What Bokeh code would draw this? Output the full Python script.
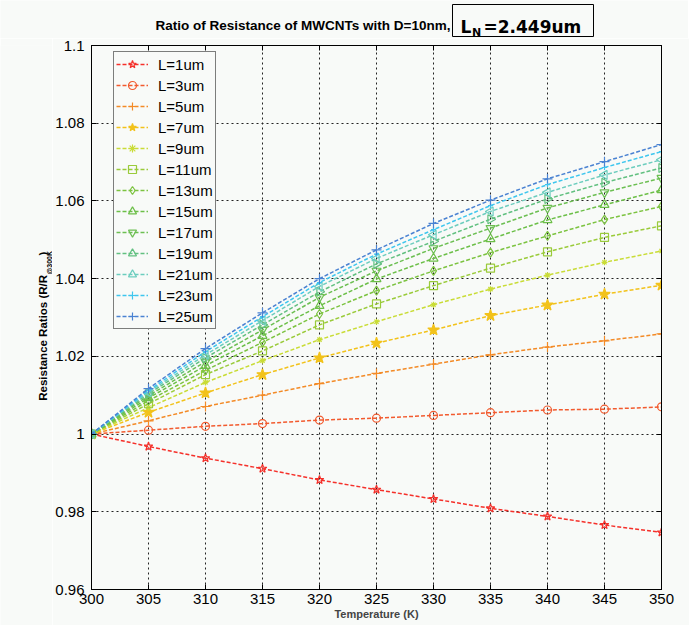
import numpy as np
from bokeh.plotting import figure
from bokeh.layouts import column, row
from bokeh.models import (Range1d, FixedTicker, LinearAxis, Legend, LegendItem,
                          CustomJSTickFormatter)
from bokeh.core.properties import value
from bokeh.embed import file_html
from bokeh.resources import INLINE

# ---------------- data ----------------
temps = [300, 305, 310, 315, 320, 325, 330, 335, 340, 345, 350]
series_labels = ["L=1um", "L=3um", "L=5um", "L=7um", "L=9um", "L=11um", "L=13um",
                 "L=15um", "L=17um", "L=19um", "L=21um", "L=23um", "L=25um"]
ratio_L1 = [1.0, 0.9968, 0.9938, 0.9911, 0.9882, 0.9857, 0.9833, 0.9809, 0.9788, 0.9766, 0.9747]
ratio_L3 = [1.0, 1.0010, 1.0020, 1.0027, 1.0036, 1.0041, 1.0048, 1.0055, 1.0062, 1.0064, 1.0070]
ratio_L5 = [1.0, 1.0034, 1.0071, 1.0100, 1.0130, 1.0156, 1.0180, 1.0204, 1.0224, 1.0240, 1.0258]
ratio_L7 = [1.0, 1.0056, 1.0106, 1.0153, 1.0196, 1.0234, 1.0268, 1.0305, 1.0332, 1.0360, 1.0383]
ratio_L9 = [1.0, 1.0068, 1.0133, 1.0189, 1.0243, 1.0289, 1.0333, 1.0373, 1.0409, 1.0442, 1.0471]
ratio_L11 = [1.0, 1.0078, 1.0153, 1.0214, 1.0281, 1.0335, 1.0382, 1.0427, 1.0469, 1.0506, 1.0536]
ratio_L13 = [1.0, 1.0086, 1.0164, 1.0236, 1.0309, 1.0369, 1.0420, 1.0467, 1.0510, 1.0552, 1.0586]
ratio_L15 = [1.0, 1.0093, 1.0176, 1.0253, 1.0330, 1.0399, 1.0452, 1.0502, 1.0551, 1.0590, 1.0628]
ratio_L17 = [1.0, 1.0099, 1.0186, 1.0268, 1.0352, 1.0420, 1.0478, 1.0530, 1.0582, 1.0622, 1.0659]
ratio_L19 = [1.0, 1.0104, 1.0196, 1.0281, 1.0366, 1.0438, 1.0496, 1.0553, 1.0605, 1.0647, 1.0685]
ratio_L21 = [1.0, 1.0108, 1.0204, 1.0292, 1.0380, 1.0452, 1.0513, 1.0573, 1.0622, 1.0667, 1.0706]
ratio_L23 = [1.0, 1.0112, 1.0212, 1.0302, 1.0390, 1.0463, 1.0526, 1.0588, 1.0642, 1.0686, 1.0727]
ratio_L25 = [1.0, 1.0117, 1.0220, 1.0312, 1.0400, 1.0474, 1.0542, 1.0602, 1.0657, 1.0701, 1.0745]
series = [ratio_L1, ratio_L3, ratio_L5, ratio_L7, ratio_L9, ratio_L11, ratio_L13,
          ratio_L15, ratio_L17, ratio_L19, ratio_L21, ratio_L23, ratio_L25]
x_ticks = [300, 305, 310, 315, 320, 325, 330, 335, 340, 345, 350]
y_ticks = [0.96, 0.98, 1.0, 1.02, 1.04, 1.06, 1.08, 1.1]

title_main = "Ratio of Resistance of MWCNTs with D=10nm,"
title_box = ["L", "N", "=2.449um"]
ylabel_parts = ["Resistance Ratios (R/R", "@300K", ")"]
xlabel = "Temperature (K)"

# ---------------- styles ----------------
colors = ["#f5302a", "#f25a2e", "#f38a26", "#f2c21a", "#c9dc36", "#9acb3a", "#7cc340",
          "#6cbf48", "#6cbf52", "#62c080", "#6ccdbe", "#3ec6ee", "#4a82d2"]
markers = ["star", "circle", "cross", "star", "asterisk", "square", "diamond",
           "triangle", "inverted_triangle", "triangle", "triangle", "cross", "cross"]
angles = [0, 0, 0, 0, 0, 0, 0, 0, 0, -np.pi / 2, np.pi / 2, 0, 0]
sizes = [9, 8, 10, 12, 6, 8, 9, 9, 9, 9, 9, 5, 10]
filled = [False, False, True, True, True, False, False, False, False, False, False, True, True]

BG = "#f8faf8"
BOLD = "bold"

# ---------------- title strip ----------------
tfig = figure(frame_width=688, frame_height=38, x_range=Range1d(0, 688), y_range=Range1d(38, 0),
              x_axis_type=None, y_axis_type=None, output_backend="svg", toolbar_location=None,
              min_border=0, background_fill_color=BG, border_fill_color=BG)
tfig.outline_line_color = None
tfig.grid.visible = False
tfig.text(x=[450], y=[25], text=[title_main], text_font=value("Liberation Sans"),
          text_font_style=BOLD, text_font_size="13.5px", text_align="right",
          text_baseline="alphabetic", text_color="black")
tfig.quad(left=[452], right=[593], top=[4], bottom=[36], fill_color=None,
          line_color="black", line_width=1)
tfig.text(x=[460, 471.5, 483], y=[26, 31.5, 26], text=title_box, text_font=value("DejaVu Sans"),
          text_font_style=BOLD, text_font_size=["17px", "11px", "17px"], text_align="left",
          text_baseline="alphabetic", text_color="black")

# ---------------- y label strip ----------------
yfig = figure(frame_width=52, frame_height=587, x_range=Range1d(0, 52), y_range=Range1d(625, 38),
              x_axis_type=None, y_axis_type=None, output_backend="svg", toolbar_location=None,
              min_border=0, background_fill_color=BG, border_fill_color=BG)
yfig.outline_line_color = None
yfig.grid.visible = False
yfig.text(x=[42, 49, 42], y=[393.3, 267, 248], text=ylabel_parts, angle=np.pi / 2,
          text_font=value("Liberation Sans"), text_font_style=BOLD,
          text_font_size=["11.5px", "7px", "11.5px"], text_align="left",
          text_baseline="alphabetic", text_color="black")

# ---------------- main plot ----------------
main = figure(frame_width=570, frame_height=544,
              x_range=Range1d(300, 350), y_range=Range1d(0.96, 1.1),
              output_backend="svg", toolbar_location=None,
              min_border_left=38, min_border_right=28, min_border_top=7, min_border_bottom=36,
              background_fill_color=BG, border_fill_color=BG)
main.outline_line_color = "black"
main.outline_line_width = 1

for ax in [main.xaxis[0], main.yaxis[0]]:
    ax.major_tick_in = 5
    ax.major_tick_out = 0
    ax.minor_tick_line_color = None
    ax.axis_line_color = "black"
    ax.major_tick_line_color = "black"
    ax.major_label_text_font = "Liberation Sans"
    ax.major_label_text_font_size = "15px"
    ax.major_label_text_color = "black"

main.xaxis.ticker = FixedTicker(ticks=x_ticks)
main.yaxis.ticker = FixedTicker(ticks=y_ticks)
main.yaxis.formatter = CustomJSTickFormatter(
    code="var s = tick.toFixed(2); s = s.replace(/0+$/, ''); return s.replace(/\\.$/, '');")
main.xaxis.major_label_standoff = 4
main.yaxis.major_label_standoff = 7
main.xaxis.axis_label = xlabel
main.xaxis.axis_label_text_font = "Liberation Sans"
main.xaxis.axis_label_text_font_style = "bold"
main.xaxis.axis_label_text_font_size = "11px"
main.xaxis.axis_label_standoff = 1

for loc in ["right", "above"]:
    ax = LinearAxis(ticker=FixedTicker(ticks=(y_ticks if loc == "right" else x_ticks)),
                    formatter=CustomJSTickFormatter(code="return '';"),
                    major_label_text_font_size="4px", major_tick_in=5, major_tick_out=0,
                    minor_tick_line_color=None, axis_line_color="black",
                    major_label_standoff=0)
    main.add_layout(ax, loc)

main.xgrid.ticker = FixedTicker(ticks=x_ticks)
main.ygrid.ticker = FixedTicker(ticks=y_ticks)
main.grid.grid_line_color = "#222222"
main.grid.grid_line_dash = "2 3"
main.grid.grid_line_width = 1

items = []
for i, vals in enumerate(series):
    c = colors[i]
    lr = main.line(temps, vals, line_color=c, line_width=1.5, line_dash="4 2")
    sr = main.scatter(temps, vals, marker=markers[i], size=sizes[i], angle=angles[i],
                      line_color=c, line_width=1.2,
                      fill_color=(c if filled[i] else None))
    items.append(LegendItem(label=series_labels[i], renderers=[lr, sr]))

legend = Legend(items=items, location=(22, 260), orientation="vertical",
                label_text_font="Liberation Sans", label_text_font_size="15px",
                label_text_color="black", label_height=20, glyph_height=20,
                glyph_width=32, spacing=1, padding=2, margin=0, label_standoff=10,
                border_line_color="black", border_line_width=1,
                background_fill_color=BG, background_fill_alpha=1.0)
main.add_layout(legend)

p = column(tfig, row(yfig, main, spacing=0), spacing=0)

open("out.html", "w").write(file_html(p, INLINE))
